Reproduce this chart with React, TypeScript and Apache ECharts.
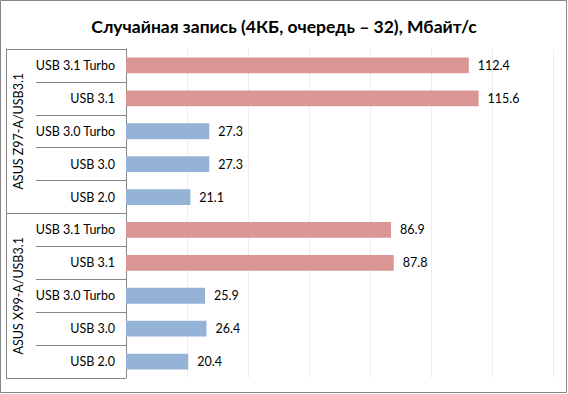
import React, { useEffect, useRef } from "react";
import * as echarts from "echarts";

const title = "Случайная запись (4КБ, очередь – 32), Мбайт/с";
const groups = ["ASUS Z97-A/USB3.1", "ASUS X99-A/USB3.1"];
const categories = [
  "USB 3.1 Turbo", "USB 3.1", "USB 3.0 Turbo", "USB 3.0", "USB 2.0",
  "USB 3.1 Turbo", "USB 3.1", "USB 3.0 Turbo", "USB 3.0", "USB 2.0",
];
const values = [112.4, 115.6, 27.3, 27.3, 21.1, 86.9, 87.8, 25.9, 26.4, 20.4];
const kinds = ["31", "31", "30", "30", "30", "31", "31", "30", "30", "30"];
const kindColor: Record<string, string> = { "31": "#D99694", "30": "#95B3D7" };
const xMax = 140;
const xStep = 20;

const FONT = "Lato, 'Open Sans', sans-serif";
const LINE = "#868686";

export default function App() {
  const ref = useRef<HTMLDivElement>(null);
  useEffect(() => {
    if (!ref.current) return;
    const chart = echarts.init(ref.current, undefined, { renderer: "svg" });
    chart.setOption({
      animation: false,
      backgroundColor: "#fff",
      textStyle: { fontFamily: FONT },
      title: {
        text: title,
        left: "center",
        top: 12,
        textStyle: { fontFamily: FONT, fontSize: 17.5, fontWeight: "bold", color: "#000" },
      },
      graphic: [
        {
          type: "rect",
          shape: { x: 0.5, y: 0.5, width: 566, height: 392 },
          style: { fill: "none", stroke: LINE, lineWidth: 1 },
          silent: true,
        },
      ],
      grid: { left: 126, right: 15, top: 49, bottom: 16, containLabel: false },
      xAxis: {
        type: "value",
        min: 0,
        max: xMax,
        interval: xStep,
        axisLabel: { show: false },
        axisLine: { show: false },
        axisTick: { show: false },
        splitLine: { lineStyle: { color: "#EDEDED", width: 1 } },
      },
      yAxis: [
        {
          type: "category",
          data: categories,
          inverse: true,
          position: "left",
          axisLine: { show: true, lineStyle: { color: LINE } },
          axisTick: { show: true, length: 90, lineStyle: { color: LINE } },
          axisLabel: { color: "#000", fontSize: 12.5, margin: 11, fontFamily: FONT },
        },
        {
          type: "category",
          data: groups,
          inverse: true,
          position: "left",
          offset: 120,
          axisLine: { show: true, lineStyle: { color: LINE } },
          axisTick: { show: true, inside: true, length: 120, lineStyle: { color: LINE } },
          axisLabel: {
            inside: true,
            rotate: 90,
            margin: 12,
            color: "#000",
            fontSize: 12.5,
            fontFamily: FONT,
            align: "center",
            verticalAlign: "middle",
          },
        },
      ],
      series: [
        {
          type: "bar",
          yAxisIndex: 0,
          barWidth: "48%",
          data: values.map((v, i) => ({ value: v, itemStyle: { color: kindColor[kinds[i]] } })),
          label: {
            show: true,
            position: "right",
            distance: 9,
            color: "#000",
            fontSize: 12.5,
            fontFamily: FONT,
            formatter: (p: any) => p.value.toFixed(1),
          },
        },
      ],
    });
    return () => chart.dispose();
  }, []);
  return (
    <div
      ref={ref}
      style={{ position: "absolute", left: 0, top: 0, width: 568, height: 394 }}
    />
  );
}
